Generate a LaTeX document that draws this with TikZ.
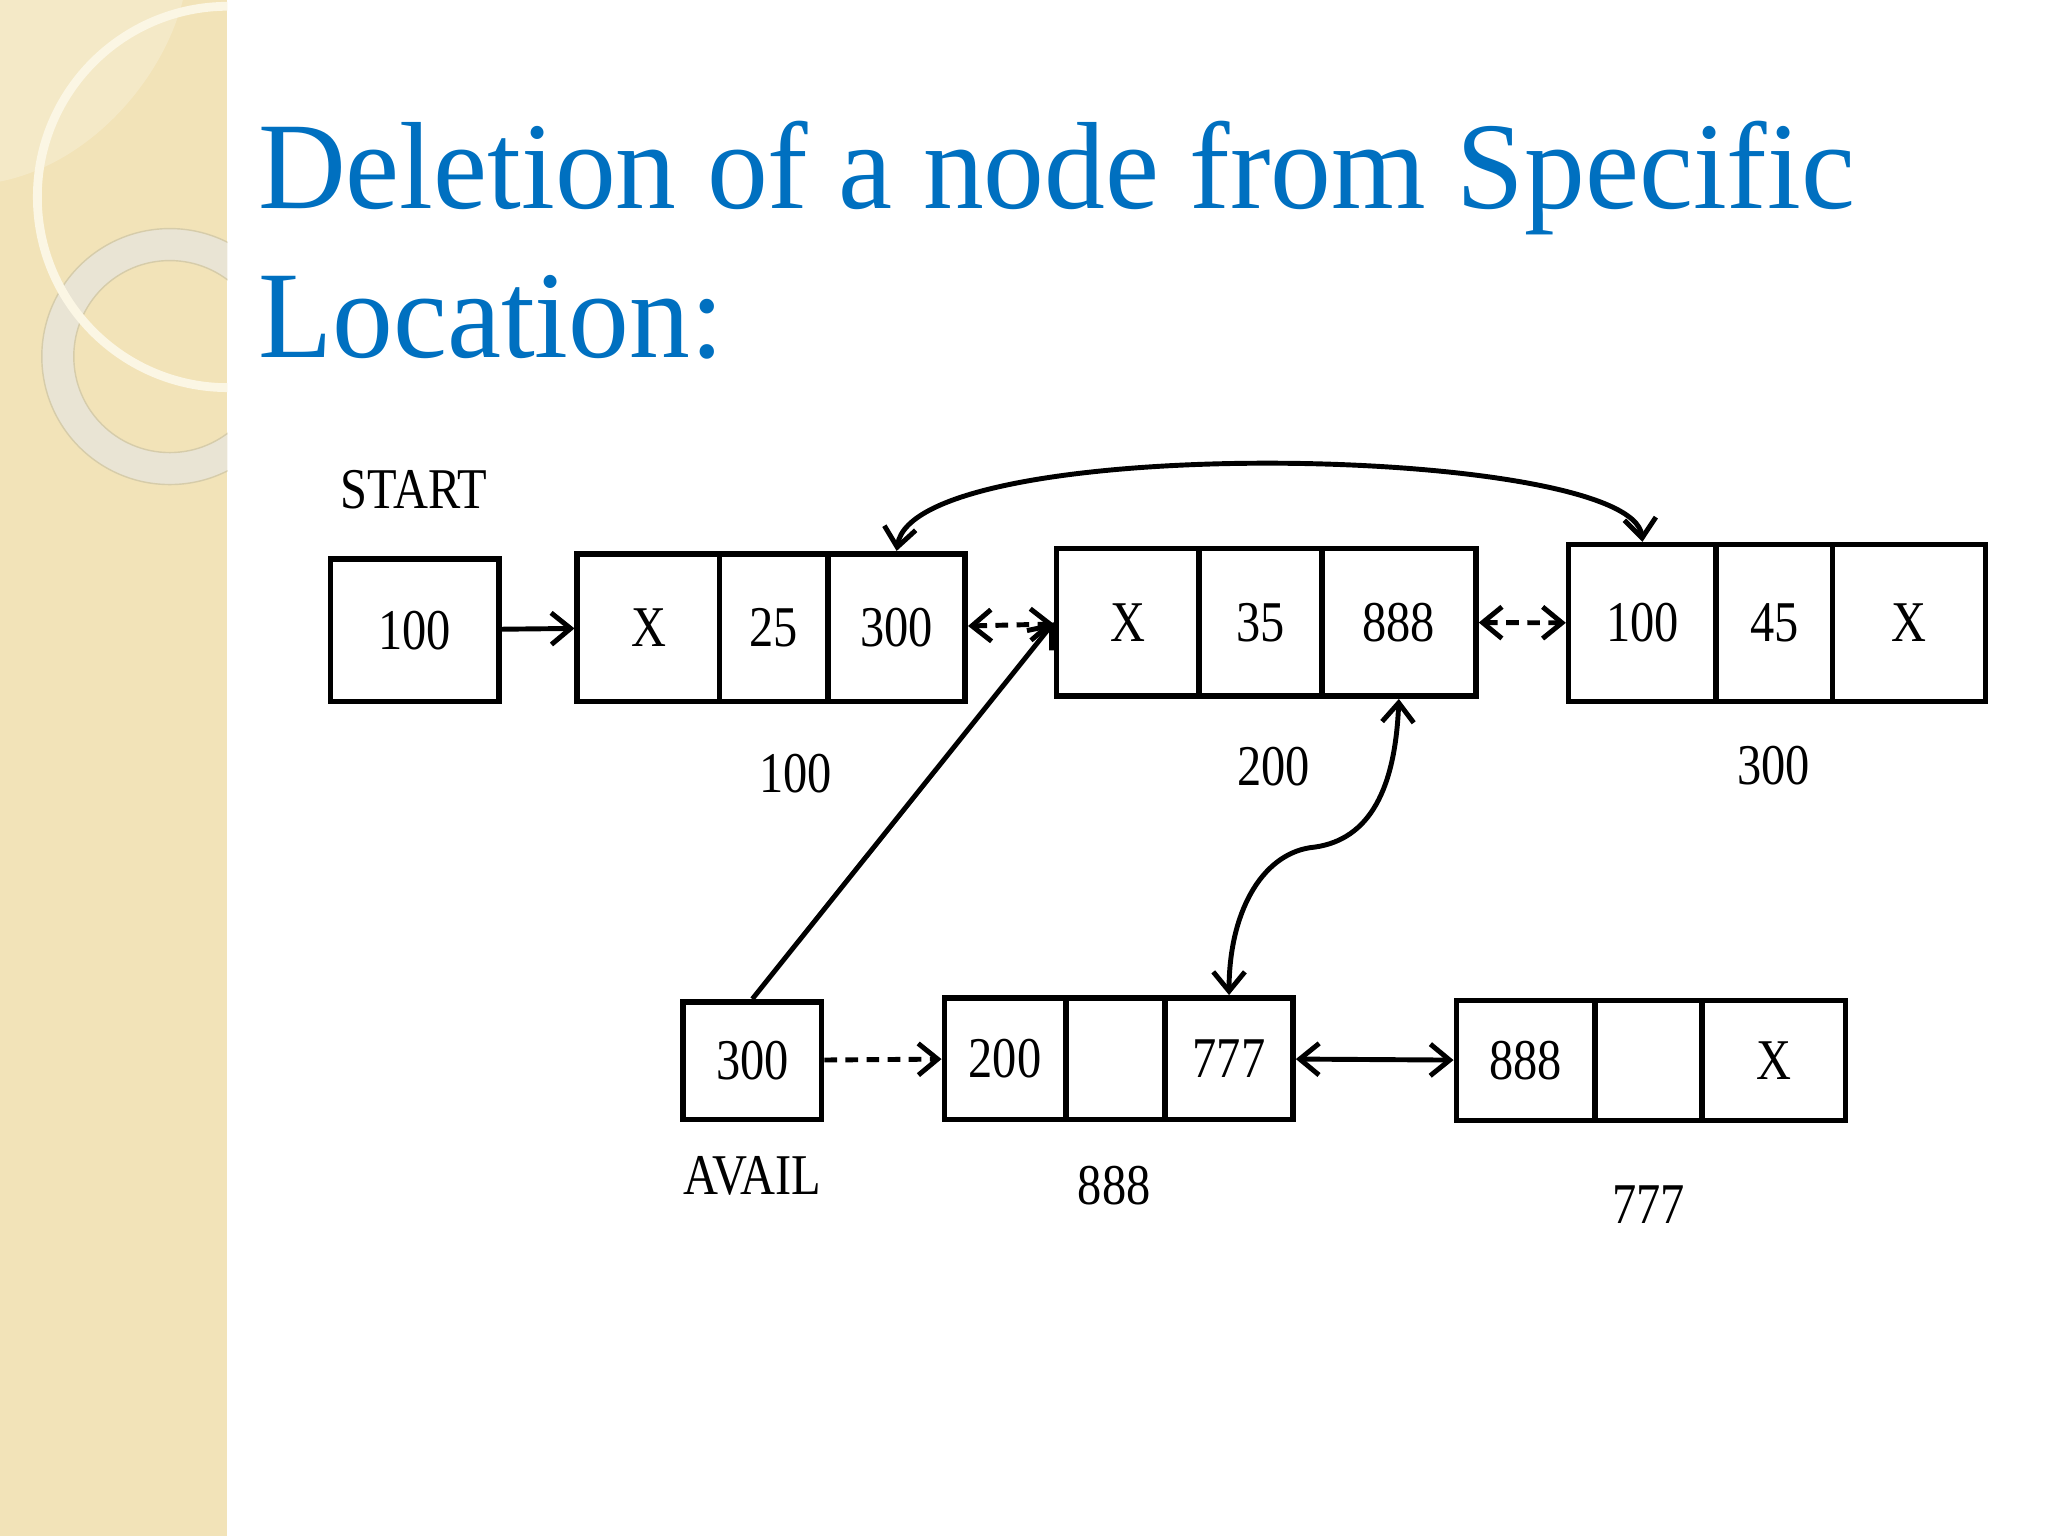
\documentclass[tikz,border=0pt]{standalone}
\usepackage{fontspec}
\setmainfont[FakeStretch=0.84]{Liberation Serif}
\newfontfamily\titlefont[FakeStretch=0.98]{Liberation Serif}
\usetikzlibrary{arrows.meta}
\definecolor{titleblue}{RGB}{0,112,192}
\definecolor{sidebar}{RGB}{242,227,184}
\definecolor{ringgray}{RGB}{233,229,216}
\definecolor{ringedge}{RGB}{214,204,170}
\definecolor{ringcream}{RGB}{251,246,228}
\begin{document}
\begin{tikzpicture}[
        x=0.0130612cm, y=-0.0130612cm,
        every node/.style={font=\fontsize{16.4}{19}\selectfont},
        cell/.style 2 args={draw, line width=1.6pt, inner sep=0pt,
            minimum width=#1*0.0130612cm, minimum height=#2*0.0130612cm},
        link/.style={line width=1.4pt, -{Straight Barb[length=5.5pt, width=9pt]}},
        twoway/.style={line width=1.4pt, {Straight Barb[length=5.5pt, width=9pt]}-{Straight Barb[length=5.5pt, width=9pt]}},
        dashlink/.style={dash pattern=on 3.6pt off 2.4pt}
    ]
    \useasboundingbox (0,0) rectangle (1568,1176);
    \fill[white] (0,0) rectangle (1568,1176);
    % Side bar
    \begin{scope}
        \clip (0,0) rectangle (174,1176);
        \fill[sidebar] (0,0) rectangle (174,1176);
        \fill[white, opacity=0.22] (0,0) -- (0,139) .. controls (70,125) and (125,60) .. (140,0) -- cycle;
        \fill[ringgray, opacity=0.9, even odd rule] (130,273) circle[radius=98] (130,273) circle[radius=73.5];
        \draw[ringedge, line width=0.4pt] (130,273) circle[radius=98] (130,273) circle[radius=73.5];
        \draw[ringcream, line width=2.5pt] (174.6,150.8) circle[radius=146];
    \end{scope}
    % Title
    \node[anchor=base west, inner sep=0pt, text=titleblue, font=\titlefont\fontsize{35.3}{42}\selectfont] (title1) at (197,160) {Deletion of a node from Specific};
    \node[anchor=base west, inner sep=0pt, text=titleblue, font=\titlefont\fontsize{35.3}{42}\selectfont] (title2) at (197,274) {Location:};
    % Pointers
    \node (startlbl) at (317,375) {START};
    \node[cell={129}{109}] (start) at (317.5,482.5) {100};
    \node[cell={106}{90}] (avail) at (576,812) {300};
    \node (availlbl) at (576,900) {AVAIL};
    % Nodes of the list
    \node[cell={109}{113}] (a1) at (496.5,480.5) {X};
    \node[cell={83}{113}] (a2) at (592.5,480.5) {25};
    \node[cell={105}{113}] (a3) at (686.5,480.5) {300};
    \node[cell={109}{113}] (b1) at (863.5,476.5) {X};
    \node[cell={94}{113}] (b2) at (965,476.5) {35};
    \node[cell={118}{113}] (b3) at (1071,476.5) {888};
    \node[cell={113}{120}] (c1) at (1257.5,477) {100};
    \node[cell={89}{120}] (c2) at (1358.5,477) {45};
    \node[cell={117}{120}] (c3) at (1461.5,477) {X};
    \node (lbl100) at (609,592) {100};
    \node (lbl200) at (975,587) {200};
    \node (lbl300) at (1358,586) {300};
    % Free nodes
    \node[cell={93}{93}] (d1) at (769.5,810.5) {200};
    \node[cell={76}{93}] (d2) at (854,810.5) {};
    \node[cell={98}{93}] (d3) at (941,810.5) {777};
    \node[cell={106}{92}] (e1) at (1168,812) {888};
    \node[cell={82}{92}] (e2) at (1262,812) {};
    \node[cell={110}{92}] (e3) at (1358,812) {X};
    \node (lbl888) at (853,908) {888};
    \node (lbl777) at (1262,922) {777};
    % Links
    \coordinate (bend) at (1003,649);
    \draw[link] (start) -- (a1);
    \draw[twoway, dashlink] (a3) -- (b1);
    \draw[twoway, dashlink] (b3) -- (c1);
    \draw[link, dashlink] (avail) -- (d1);
    \draw[twoway] (d3) -- (e1);
    \draw[link] (avail.north) -- (b1.west);
    \draw[twoway] (a3.north) .. controls (700,330) and (1250,340) .. (c1.north);
    \draw[twoway] (b3.south) .. controls (1068,610) and (1045,645) .. (bend) .. controls (965,655) and (941,700) .. (d3.north);
\end{tikzpicture}
\end{document}
